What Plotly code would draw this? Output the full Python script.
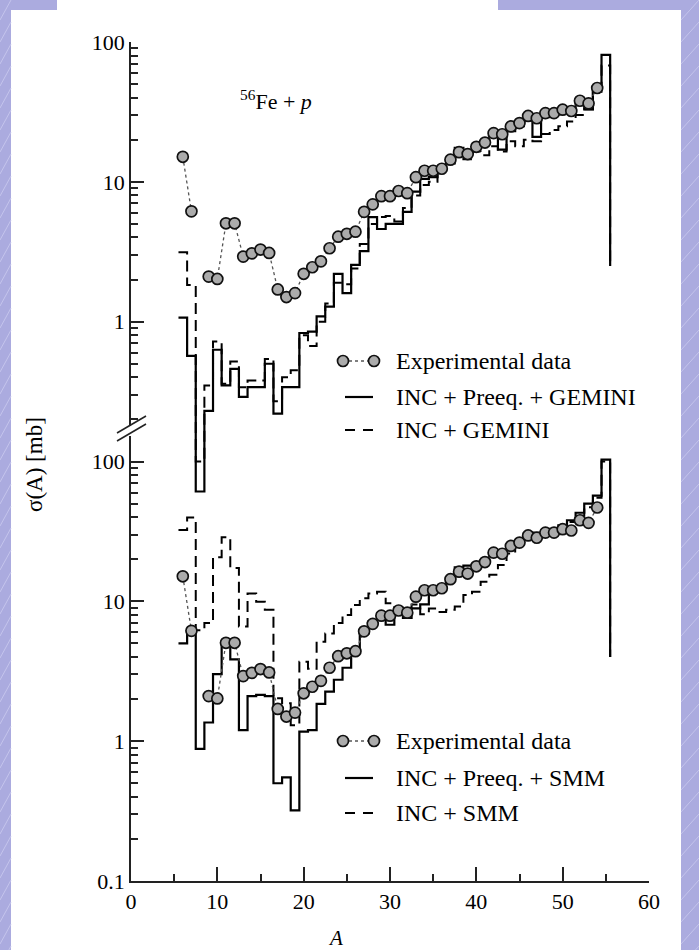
import plotly.graph_objects as go

# ---------------- data ----------------
# mass number A of the fragments and bins of the calculated spectra
bins_A = list(range(6, 56))
exp_A = list(range(6, 55))

# experimental cross sections sigma(A) in mb (no point at A = 8)
exp_sigma = [15.1, 6.15, None, 2.1, 2.02, 5.05, 5.05, 2.92, 3.08, 3.28, 3.1,
             1.7, 1.5, 1.6, 2.2, 2.45, 2.7, 3.35, 4.05, 4.25, 4.4, 6.1, 6.9,
             7.9, 7.9, 8.6, 8.3, 10.8, 12.0, 12.0, 12.4, 14.4, 16.3, 15.8,
             17.8, 19.1, 22.3, 21.9, 24.9, 26.3, 29.6, 28.5, 31.0, 31.0, 32.8,
             32.1, 38.0, 36.4, 46.9]

# INC + Preeq. + GEMINI
gem_preeq = [1.07, 0.57, 0.061, 0.23, 0.63, 0.35, 0.46, 0.29, 0.34, 0.34,
             0.50, 0.22, 0.34, 0.34, 0.83, 0.85, 1.09, 1.28, 2.2, 1.6, 2.55,
             3.2, 5.6, 4.6, 5.0, 5.0, 6.1, 8.5, 10.5, 10.8, 12.5, 14.5, 17.5,
             15.5, 17.5, 19.0, 22.0, 17.0, 23.0, 25.0, 27.5, 21.0, 29.0, 30.0,
             31.5, 33.0, 36.0, 33.0, 46.0, 81.0]
gem_preeq_end = 2.5

# INC + GEMINI
gem = [3.14, 1.83, 0.10, 0.35, 0.72, 0.36, 0.52, 0.34, 0.38, 0.38, 0.54,
       0.27, 0.40, 0.45, 0.80, 0.67, 1.0, 1.35, 1.9, 1.85, 2.4, 3.6, 5.0,
       5.6, 5.7, 5.2, 6.5, 8.0, 9.5, 10.0, 12.0, 13.5, 15.0, 14.5, 16.5,
       15.5, 18.0, 16.5, 19.5, 18.0, 20.0, 19.5, 22.0, 23.5, 25.0, 27.0,
       30.0, 33.0, 44.0, 68.0]
gem_end = 2.5

# INC + Preeq. + SMM
smm_preeq = [5.0, 6.07, 0.88, 1.36, 3.02, 5.15, 3.85, 1.2, 2.1, 2.14, 2.1,
             0.5, 0.55, 0.32, 1.17, 1.2, 1.85, 2.26, 2.75, 3.35, 4.5, 5.9,
             7.2, 8.2, 6.8, 8.4, 7.6, 8.9, 9.5, 12.0, 12.5, 14.0, 17.5, 18.0,
             18.5, 19.5, 21.0, 22.0, 24.5, 27.0, 30.5, 31.0, 32.0, 33.0, 35.0,
             38.0, 43.0, 50.0, 57.0, 103.0]
smm_preeq_end = 4.0

# INC + SMM
smm = [32.4, 39.7, 6.2, 7.0, 20.7, 28.7, 17.3, 6.6, 11.4, 9.95, 8.7, 2.03,
       1.87, 1.3, 3.7, 3.3, 5.15, 5.9, 7.0, 8.0, 9.4, 10.5, 11.4, 11.7, 9.7,
       9.0, 9.0, 9.5, 8.1, 8.9, 8.4, 8.7, 9.2, 11.1, 11.7, 13.8, 15.5, 18.2,
       22.0, 25.0, 28.0, 30.0, 31.0, 32.0, 34.0, 37.0, 41.0, 47.0, 55.0,
       100.0]
smm_end = 4.0

# the upper (GEMINI) panel is shifted up by three decades on the common axis
UPPER_SHIFT = 1000.0

y_major = [0.1, 1, 10, 100, 1e3, 1e4, 1e5]
y_major_text = ["0.1", "1", "10", "100", "1", "10", "100"]
x_major = [0, 10, 20, 30, 40, 50, 60]
x_minor = [5, 15, 25, 35, 45, 55]

# ---------------- geometry ----------------
W, H = 699, 950
L, R, T, B = 131, 649, 42, 881
SERIF = "Liberation Serif, Times New Roman, serif"


def xp(x):
    return (x - L) / (R - L)


def yp(y):
    return (B - y) / (B - T)


def step_path(centers, values, end_value, scale=1.0):
    xs, ys = [], []
    for a, v in zip(centers, values):
        xs += [a - 0.5, a + 0.5]
        ys += [v * scale, v * scale]
    xs.append(centers[-1] + 0.5)
    ys.append(end_value * scale)
    return xs, ys


fig = go.Figure()

SOLID = dict(color="black", width=2.2)
DASHED = dict(color="black", width=2.0, dash="11px,6px")

for vals, end, scale, style in [
    (gem, gem_end, UPPER_SHIFT, DASHED),
    (gem_preeq, gem_preeq_end, UPPER_SHIFT, SOLID),
    (smm, smm_end, 1.0, DASHED),
    (smm_preeq, smm_preeq_end, 1.0, SOLID),
]:
    xs, ys = step_path(bins_A, vals, end, scale)
    fig.add_trace(go.Scatter(x=xs, y=ys, mode="lines", line=style,
                             hoverinfo="skip", showlegend=False))

marker = dict(size=11, color="#ababab", line=dict(color="#111", width=1.7))
for scale in (UPPER_SHIFT, 1.0):
    ys = [None if v is None else v * scale for v in exp_sigma]
    fig.add_trace(go.Scatter(x=exp_A, y=ys, mode="lines+markers",
                             line=dict(color="#555", width=1.3, dash="dot"),
                             marker=marker, connectgaps=False,
                             showlegend=False))

# minor ticks: lower panel 0.1..100, upper panel 0.2..100 (shifted)
y_minor = []
for dec in (0.1, 1, 10):
    y_minor += [k * dec for k in range(2, 10)]
for dec in (0.1, 1, 10):
    y_minor += [k * dec * UPPER_SHIFT for k in range(2, 10)]

fig.update_xaxes(range=[0, 60], showline=True, linecolor="#222", linewidth=1.6,
                 ticks="inside", ticklen=14, tickwidth=1.5, tickcolor="#222",
                 tickmode="array", tickvals=x_major,
                 minor=dict(tickmode="array", tickvals=x_minor, ticks="inside",
                            ticklen=7, tickwidth=1.5, tickcolor="#222",
                            showgrid=False),
                 showgrid=False, zeroline=False, automargin=False,
                 tickfont=dict(family=SERIF, size=22, color="black"))
fig.update_yaxes(type="log", range=[-1, 5], showline=True, linecolor="#222",
                 linewidth=1.6, ticks="inside", ticklen=13, tickwidth=1.5,
                 tickcolor="#222", tickmode="array", tickvals=y_major,
                 ticktext=y_major_text,
                 minor=dict(tickmode="array", tickvals=y_minor, ticks="inside",
                            ticklen=7, tickwidth=1.5, tickcolor="#222",
                            showgrid=False),
                 showgrid=False, zeroline=False, automargin=False,
                 tickfont=dict(family=SERIF, size=22, color="black"))

shapes = []
# white slide area over the lavender frame
shapes.append(dict(type="rect", xref="paper", yref="paper", layer="below",
                   x0=xp(11), x1=xp(681), y0=yp(H + 5), y1=yp(10),
                   fillcolor="white", line=dict(width=0)))
shapes.append(dict(type="rect", xref="paper", yref="paper", layer="below",
                   x0=xp(57), x1=xp(498), y0=yp(10), y1=yp(-2),
                   fillcolor="white", line=dict(width=0)))
# faint diagonal stripes on the lavender frame
for k in range(-2, 50):
    y0 = k * 22
    shapes.append(dict(type="line", xref="paper", yref="paper", layer="below",
                       x0=xp(0), y0=yp(y0 + 20), x1=xp(11), y1=yp(y0),
                       line=dict(color="#c4c4ec", width=1)))
    shapes.append(dict(type="line", xref="paper", yref="paper", layer="below",
                       x0=xp(681), y0=yp(y0 + 20), x1=xp(699), y1=yp(y0),
                       line=dict(color="#c4c4ec", width=1)))

# axis break marks
shapes.append(dict(type="rect", xref="paper", yref="paper",
                   x0=xp(128), x1=xp(136), y0=yp(436), y1=yp(426),
                   fillcolor="white", line=dict(width=0)))
for dy in (0, 8):
    shapes.append(dict(type="line", xref="paper", yref="paper",
                       x0=xp(117), y0=yp(437 + dy - 4), x1=xp(146),
                       y1=yp(420 + dy - 4), line=dict(color="#222", width=1.6)))

annotations = []


def legend_block(rows_y, labels):
    ey, sy, dy = rows_y
    # experimental data symbol: two circles joined by a dotted line
    shapes.append(dict(type="line", xref="paper", yref="paper",
                       x0=xp(343), x1=xp(374), y0=yp(ey), y1=yp(ey),
                       line=dict(color="#555", width=1.3, dash="dot")))
    for cx in (343, 374):
        shapes.append(dict(type="circle", xref="paper", yref="paper",
                           x0=xp(cx - 5.5), x1=xp(cx + 5.5),
                           y0=yp(ey + 5.5), y1=yp(ey - 5.5),
                           fillcolor="#ababab",
                           line=dict(color="#111", width=1.7)))
    shapes.append(dict(type="line", xref="paper", yref="paper",
                       x0=xp(345), x1=xp(373), y0=yp(sy), y1=yp(sy),
                       line=dict(color="black", width=2.2)))
    for x0, x1 in ((345, 355), (363, 373)):
        shapes.append(dict(type="line", xref="paper", yref="paper",
                           x0=xp(x0), x1=xp(x1), y0=yp(dy), y1=yp(dy),
                           line=dict(color="black", width=2.0)))
    for y, text in zip(rows_y, labels):
        annotations.append(dict(xref="paper", yref="paper", x=xp(394),
                                y=yp(y), xanchor="left", yanchor="middle",
                                text=text, showarrow=False,
                                font=dict(family=SERIF, size=24,
                                          color="black")))


legend_block((361, 397, 430), ["Experimental data", "INC + Preeq. + GEMINI",
                               "INC + GEMINI"])
legend_block((741, 778, 813), ["Experimental data", "INC + Preeq. + SMM",
                               "INC + SMM"])

annotations.append(dict(xref="paper", yref="paper", x=xp(238), y=yp(100),
                        xanchor="left", yanchor="middle", showarrow=False,
                        text="<sup>56</sup>Fe + <i>p</i>",
                        font=dict(family=SERIF, size=22, color="black")))
annotations.append(dict(xref="paper", yref="paper", x=xp(35), y=yp(465),
                        xanchor="center", yanchor="middle", showarrow=False,
                        textangle=-90, text="σ(A) [mb]",
                        font=dict(family=SERIF, size=23, color="black")))
annotations.append(dict(xref="paper", yref="paper", x=xp(335), y=yp(938),
                        xanchor="center", yanchor="middle", showarrow=False,
                        text="<i>A</i>",
                        font=dict(family=SERIF, size=21, color="black")))

fig.update_layout(width=W, height=H,
                  margin=dict(l=L, r=W - R, t=T, b=H - B, pad=0),
                  paper_bgcolor="#ababdf", plot_bgcolor="white",
                  shapes=shapes, annotations=annotations, showlegend=False)

fig.write_html("out.html")
